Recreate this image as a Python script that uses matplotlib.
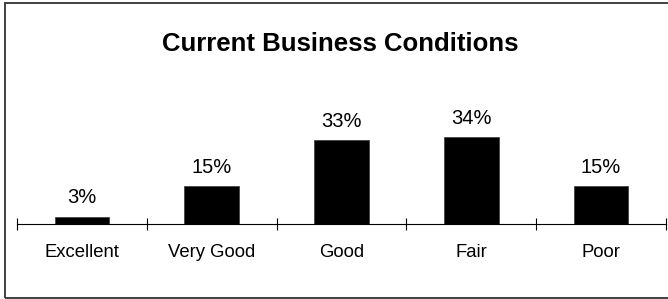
import matplotlib.pyplot as plt
import matplotlib.patches as patches
import numpy as np

plt.rcParams['font.family'] = ['Liberation Sans', 'DejaVu Sans']

# data
categories = ['Excellent', 'Very Good', 'Good', 'Fair', 'Poor']
values = [3, 15, 33, 34, 15]
labels = ['3%', '15%', '33%', '34%', '15%']

fig = plt.figure(figsize=(6.68, 2.99), dpi=100)
ax = fig.add_axes([17 / 668, 74.7 / 299, 649 / 668, 128 / 299])

x = np.arange(len(categories))
bars = ax.bar(x, values, width=0.42, color='black', edgecolor='#444444', linewidth=0.6)

for rect, lab in zip(bars, labels):
    ax.annotate(lab, (rect.get_x() + rect.get_width() / 2, rect.get_height()),
                xytext=(0, 9.5), textcoords='offset points',
                ha='center', va='baseline', fontsize=14.5, annotation_clip=False)

ax.set_xlim(-0.5, len(categories) - 0.5)
ax.set_ylim(0, 50)

# category labels at centers, tick marks at boundaries
ax.set_xticks(x)
ax.set_xticklabels(categories, fontsize=13.3)
ax.tick_params(axis='x', which='major', length=0, pad=14)
ax.set_xticks(np.arange(-0.5, len(categories)), minor=True)
ax.tick_params(axis='x', which='minor', direction='inout', length=8, width=0.8, color='black')

ax.set_yticks([])
for s in ['top', 'right', 'left']:
    ax.spines[s].set_visible(False)
ax.spines['bottom'].set_linewidth(0.8)

fig.text(340 / 668, (299 - 51) / 299, 'Current Business Conditions',
         ha='center', va='baseline', fontsize=18.5, fontweight='bold')

# outer frame (right side runs off the picture)
frame = patches.Rectangle((4.5 / 668, 1.5 / 299), 1.2, 295 / 299,
                          transform=fig.transFigure, fill=False,
                          edgecolor='#333333', linewidth=1.3, clip_on=True)
fig.patches.append(frame)

fig.savefig('out.png', dpi=100)
